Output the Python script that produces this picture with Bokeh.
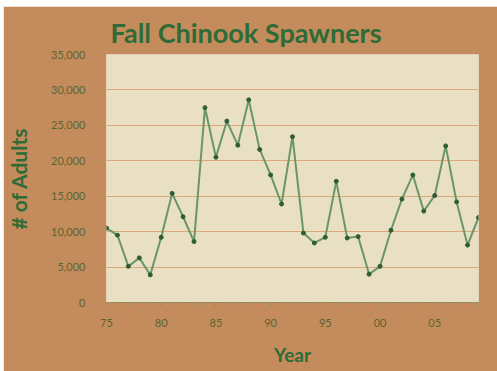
from bokeh.plotting import figure
from bokeh.models import Range1d, FixedTicker, NumeralTickFormatter, Spacer
from bokeh.layouts import column, row
from bokeh.embed import file_html
from bokeh.resources import INLINE

years = list(range(1975, 2010))
adults = [10500, 9500, 5100, 6300, 3900, 9200, 15400, 12100, 8600, 27500,
          20500, 25600, 22200, 28600, 21600, 18000, 13900, 23400, 9800, 8400,
          9200, 17100, 9100, 9300, 4000, 5100, 10200, 14600, 18000, 12900,
          15100, 22100, 14200, 8100, 12000]
y_ticks = [0, 5000, 10000, 15000, 20000, 25000, 30000, 35000]
x_ticks = [1975, 1980, 1985, 1990, 1995, 2000, 2005]
x_tick_labels = ["75", "80", "85", "90", "95", "00", "05"]
title_text = "Fall Chinook Spawners"

BROWN = "#C48C5D"
CREAM = "#E9E0C4"
GREEN = "#2E6B36"
TICKC = "#58652F"

p = figure(width=494, height=365, output_backend="svg", toolbar_location=None,
           x_range=Range1d(1975, 2009), y_range=Range1d(0, 35000),
           min_border_left=94, min_border_right=19, min_border_top=48, min_border_bottom=69,
           title=title_text)
p.background_fill_color = CREAM
p.border_fill_color = BROWN
p.outline_line_color = None

p.title.align = "left"
p.title.offset = 4
p.title.standoff = 12
p.title.text_font = "Lato"
p.title.text_font_style = "bold"
p.title.text_font_size = "27px"
p.title.text_color = GREEN

p.line(years, adults, line_color="#6A9568", line_width=2)
p.scatter(years, adults, size=4, fill_color="#2F5C36", line_color="#2F5C36")

p.xgrid.grid_line_color = None
p.ygrid.grid_line_color = "#DBA77D"
p.ygrid.grid_line_width = 1
p.ygrid.ticker = FixedTicker(ticks=y_ticks)

p.yaxis.ticker = FixedTicker(ticks=y_ticks)
p.yaxis.formatter = NumeralTickFormatter(format="0,0")
p.yaxis.axis_line_color = None
p.yaxis.major_tick_line_color = None
p.yaxis.minor_tick_line_color = None
p.yaxis.major_label_standoff = 15
p.yaxis.major_label_text_font = "Lato"
p.yaxis.major_label_text_font_size = "11px"
p.yaxis.major_label_text_color = TICKC
p.yaxis.axis_label = "# of Adults"
p.yaxis.axis_label_text_font = "Lato"
p.yaxis.axis_label_text_font_style = "bold"
p.yaxis.axis_label_text_font_size = "21px"
p.yaxis.axis_label_text_color = GREEN
p.yaxis.axis_label_standoff = 17

p.xaxis.ticker = FixedTicker(ticks=x_ticks, minor_ticks=years)
p.xaxis.major_label_overrides = {t: l for t, l in zip(x_ticks, x_tick_labels)}
p.xaxis.axis_line_color = "#9C8A62"
p.xaxis.major_tick_line_color = "#9C8A62"
p.xaxis.minor_tick_line_color = "#9C8A62"
p.xaxis.major_tick_in = 0
p.xaxis.major_tick_out = 4
p.xaxis.minor_tick_in = 0
p.xaxis.minor_tick_out = 4
p.xaxis.major_label_standoff = 12
p.xaxis.major_label_text_font = "Lato"
p.xaxis.major_label_text_font_size = "11px"
p.xaxis.major_label_text_color = TICKC
p.xaxis.axis_label = "Year"
p.xaxis.axis_label_text_font = "Lato"
p.xaxis.axis_label_text_font_style = "bold"
p.xaxis.axis_label_text_font_size = "19px"
p.xaxis.axis_label_text_color = GREEN
p.xaxis.axis_label_standoff = 13

layout = column(Spacer(height=6), row(Spacer(width=3), p))
open("out.html", "w").write(file_html(layout, INLINE))
